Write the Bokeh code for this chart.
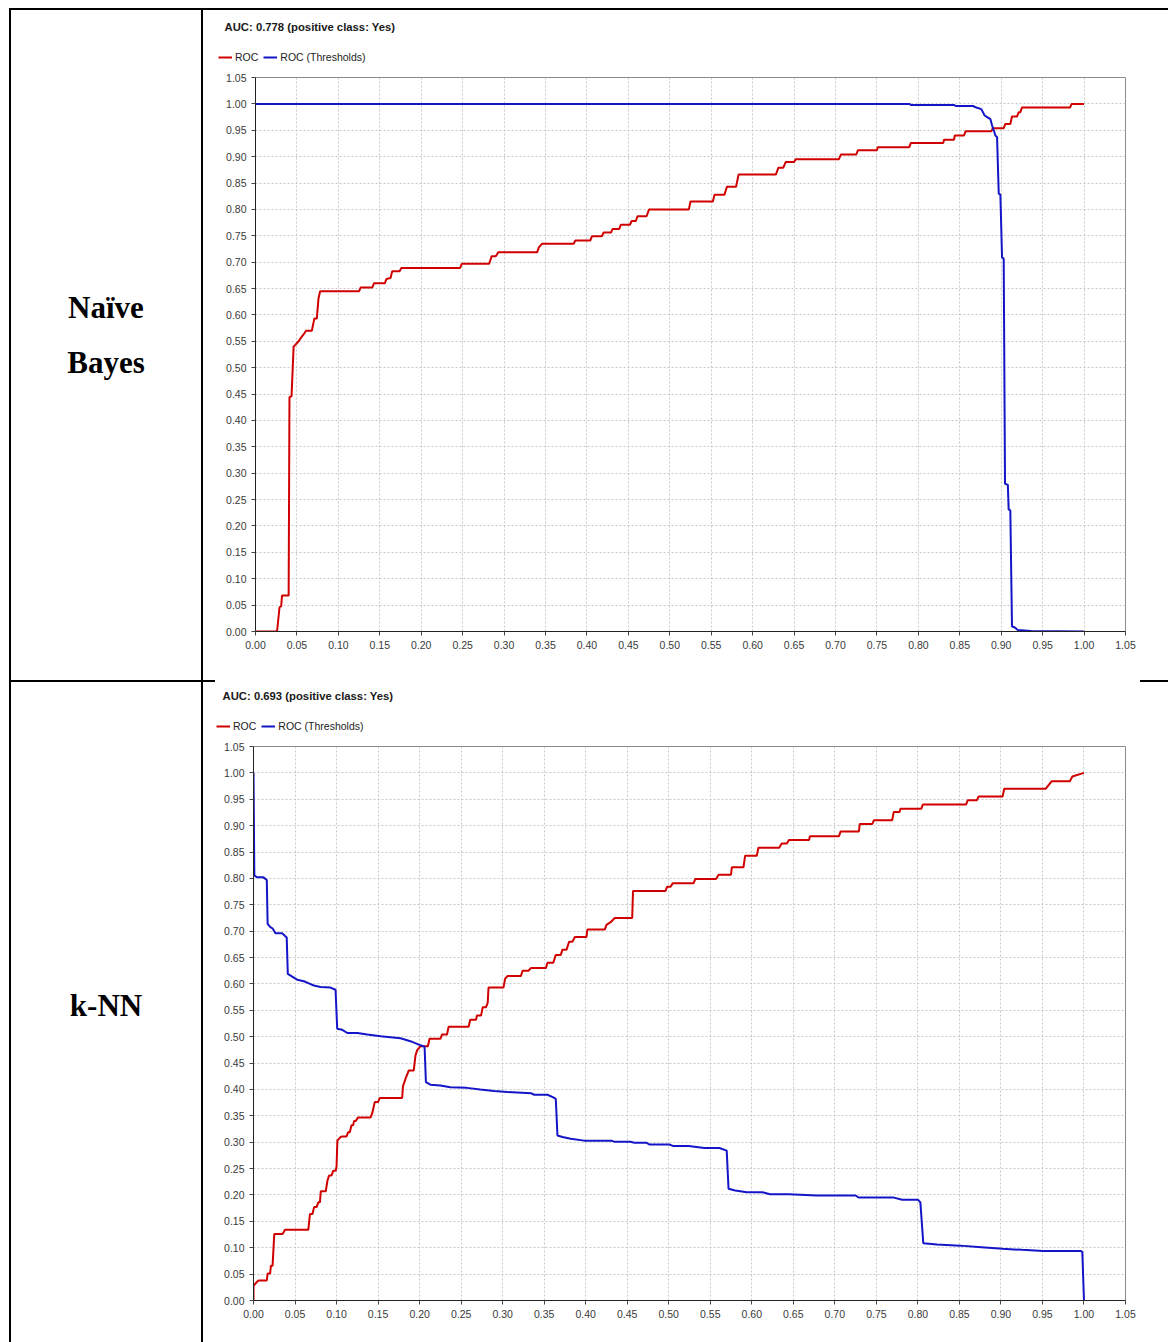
from bokeh.plotting import figure
from bokeh.layouts import column, row
from bokeh.models import (Div, Spacer, Range1d, FixedTicker, NumeralTickFormatter,
                          Label, Legend, LegendItem)
from bokeh.embed import file_html
from bokeh.resources import INLINE

# ---------------- data ----------------
axis_ticks = [0.00, 0.05, 0.10, 0.15, 0.20, 0.25, 0.30, 0.35, 0.40, 0.45, 0.50,
              0.55, 0.60, 0.65, 0.70, 0.75, 0.80, 0.85, 0.90, 0.95, 1.00, 1.05]

row_labels = [["Naïve", "Bayes"], ["k-NN"]]
titles = ["AUC: 0.778 (positive class: Yes)", "AUC: 0.693 (positive class: Yes)"]
series_names = ["ROC", "ROC (Thresholds)"]

nb_roc_fpr = [0.000, 0.026, 0.029, 0.031, 0.032, 0.040, 0.041, 0.0435, 0.046, 0.049, 0.052, 0.055,
              0.058, 0.061, 0.068, 0.071, 0.074, 0.076, 0.078, 0.125, 0.127, 0.141, 0.143, 0.156,
              0.158, 0.163, 0.165, 0.174, 0.176, 0.247, 0.249, 0.282, 0.285, 0.290, 0.293, 0.340,
              0.342, 0.346, 0.384, 0.386, 0.404, 0.406, 0.418, 0.420, 0.429, 0.431, 0.439, 0.441,
              0.452, 0.454, 0.459, 0.461, 0.472, 0.475, 0.523, 0.525, 0.552, 0.554, 0.566, 0.569,
              0.580, 0.583, 0.628, 0.631, 0.637, 0.640, 0.650, 0.652, 0.704, 0.7065, 0.725, 0.727,
              0.750, 0.751, 0.789, 0.791, 0.830, 0.831, 0.843, 0.844, 0.855, 0.857, 0.888, 0.890,
              0.903, 0.905, 0.911, 0.913, 0.919, 0.921, 0.923, 0.925, 0.983, 0.985, 1.000]
nb_roc_tpr = [0.000, 0.000, 0.046, 0.048, 0.068, 0.068, 0.444, 0.446, 0.540, 0.545, 0.550, 0.557,
              0.563, 0.570, 0.570, 0.593, 0.593, 0.631, 0.645, 0.645, 0.652, 0.652, 0.660, 0.660,
              0.668, 0.670, 0.683, 0.683, 0.689, 0.689, 0.697, 0.697, 0.711, 0.711, 0.719, 0.719,
              0.728, 0.735, 0.735, 0.741, 0.741, 0.749, 0.749, 0.756, 0.756, 0.763, 0.763, 0.771,
              0.771, 0.778, 0.778, 0.787, 0.787, 0.800, 0.800, 0.815, 0.815, 0.828, 0.828, 0.843,
              0.843, 0.866, 0.866, 0.879, 0.879, 0.890, 0.890, 0.895, 0.895, 0.904, 0.904, 0.912,
              0.912, 0.918, 0.918, 0.926, 0.926, 0.932, 0.932, 0.940, 0.940, 0.948, 0.948, 0.954,
              0.954, 0.962, 0.962, 0.976, 0.976, 0.984, 0.984, 0.993, 0.993, 1.000, 1.000]

nb_thr_fpr = [0.000, 0.789, 0.791, 0.843, 0.845, 0.866, 0.870, 0.876, 0.880, 0.884, 0.887, 0.889,
              0.891, 0.893, 0.895, 0.897, 0.899, 0.901, 0.903, 0.9046, 0.908, 0.909, 0.911, 0.913,
              0.916, 0.920, 0.936, 1.000]
nb_thr_val = [1.000, 1.000, 0.998, 0.998, 0.996, 0.996, 0.993, 0.990, 0.978, 0.974, 0.971, 0.959,
              0.950, 0.940, 0.937, 0.830, 0.828, 0.709, 0.707, 0.280, 0.278, 0.231, 0.230, 0.0095,
              0.008, 0.003, 0.001, 0.000]

knn_roc_fpr = [0.000, 0.000, 0.004, 0.006, 0.016, 0.017, 0.020, 0.021, 0.023, 0.025, 0.035, 0.038,
               0.066, 0.068, 0.071, 0.073, 0.076, 0.078, 0.080, 0.081, 0.087, 0.089, 0.091, 0.094,
               0.096, 0.099, 0.100, 0.101, 0.105, 0.107, 0.112, 0.114, 0.116, 0.118, 0.120, 0.121,
               0.123, 0.126, 0.141, 0.143, 0.146, 0.150, 0.152, 0.179, 0.180, 0.183, 0.187, 0.193,
               0.195, 0.197, 0.201, 0.210, 0.212, 0.225, 0.227, 0.233, 0.235, 0.259, 0.261, 0.268,
               0.269, 0.274, 0.276, 0.280, 0.282, 0.283, 0.301, 0.303, 0.306, 0.322, 0.324, 0.331,
               0.334, 0.352, 0.354, 0.361, 0.364, 0.370, 0.372, 0.377, 0.380, 0.384, 0.387, 0.401,
               0.402, 0.423, 0.425, 0.430, 0.435, 0.456, 0.457, 0.496, 0.498, 0.502, 0.505, 0.530,
               0.532, 0.557, 0.560, 0.575, 0.576, 0.590, 0.592, 0.606, 0.608, 0.633, 0.636, 0.642,
               0.645, 0.669, 0.670, 0.705, 0.707, 0.729, 0.730, 0.745, 0.747, 0.769, 0.771, 0.778,
               0.779, 0.804, 0.806, 0.858, 0.860, 0.871, 0.873, 0.902, 0.904, 0.954, 0.961, 0.983,
               0.986, 1.000]
knn_roc_tpr = [0.000, 0.028, 0.035, 0.038, 0.038, 0.051, 0.051, 0.066, 0.066, 0.126, 0.126, 0.134,
               0.134, 0.164, 0.164, 0.177, 0.177, 0.186, 0.186, 0.207, 0.207, 0.227, 0.237, 0.237,
               0.246, 0.246, 0.254, 0.303, 0.310, 0.311, 0.311, 0.319, 0.319, 0.332, 0.332, 0.340,
               0.340, 0.347, 0.347, 0.355, 0.376, 0.376, 0.384, 0.384, 0.406, 0.420, 0.436, 0.436,
               0.464, 0.474, 0.482, 0.482, 0.496, 0.496, 0.504, 0.504, 0.519, 0.519, 0.532, 0.532,
               0.540, 0.540, 0.556, 0.556, 0.564, 0.593, 0.593, 0.610, 0.615, 0.615, 0.625, 0.625,
               0.630, 0.630, 0.640, 0.640, 0.655, 0.655, 0.665, 0.665, 0.680, 0.680, 0.689, 0.689,
               0.703, 0.703, 0.712, 0.717, 0.725, 0.725, 0.776, 0.776, 0.784, 0.784, 0.791, 0.791,
               0.799, 0.799, 0.807, 0.807, 0.821, 0.821, 0.843, 0.843, 0.858, 0.858, 0.866, 0.866,
               0.873, 0.873, 0.880, 0.880, 0.889, 0.889, 0.903, 0.903, 0.910, 0.910, 0.926, 0.926,
               0.932, 0.932, 0.940, 0.940, 0.948, 0.948, 0.955, 0.955, 0.970, 0.970, 0.984, 0.984,
               0.993, 1.000]

knn_thr_fpr = [0.000, 0.001, 0.004, 0.012, 0.016, 0.017, 0.020, 0.023, 0.0265, 0.0345, 0.040,
               0.0413, 0.0466, 0.0526, 0.0607, 0.0667, 0.0727, 0.0807, 0.0928, 0.0988, 0.1008,
               0.1069, 0.113, 0.125, 0.137, 0.153, 0.177, 0.189, 0.199, 0.206, 0.2076, 0.213,
               0.225, 0.237, 0.257, 0.273, 0.2895, 0.3057, 0.334, 0.338, 0.354, 0.361, 0.364,
               0.366, 0.372, 0.382, 0.398, 0.431, 0.435, 0.454, 0.4586, 0.473, 0.477, 0.5006,
               0.505, 0.524, 0.5427, 0.561, 0.5698, 0.572, 0.580, 0.594, 0.613, 0.622, 0.645,
               0.678, 0.725, 0.729, 0.771, 0.781, 0.800, 0.803, 0.8065, 0.823, 0.851, 0.8765,
               0.902, 0.9255, 0.951, 0.9957, 0.998, 1.000]
knn_thr_val = [1.000, 0.806, 0.802, 0.802, 0.797, 0.714, 0.708, 0.705, 0.696, 0.696, 0.688,
               0.619, 0.614, 0.608, 0.605, 0.601, 0.597, 0.594, 0.593, 0.589, 0.515,
               0.513, 0.507, 0.507, 0.504, 0.501, 0.497, 0.4915, 0.485, 0.481, 0.414, 0.409,
               0.4075, 0.404, 0.403, 0.400, 0.397, 0.395, 0.393, 0.390, 0.390, 0.385, 0.382,
               0.3127, 0.310, 0.3065, 0.303, 0.303, 0.3007, 0.3007, 0.299, 0.299, 0.2956, 0.2956,
               0.293, 0.293, 0.289, 0.289, 0.284, 0.2117, 0.2085, 0.2053, 0.2053, 0.2015, 0.2015,
               0.199, 0.199, 0.195, 0.195, 0.191, 0.191, 0.186, 0.1086, 0.106, 0.104, 0.101,
               0.098, 0.096, 0.094, 0.094, 0.092, 0.000]

# ---------------- styling ----------------
RED = "#d00000"
BLUE = "#1414c8"
SANS = "Liberation Sans"
SERIF = "Liberation Serif"
W = 965
NAN = float("nan")


def header(title, height, title_x, title_y, legend_x):
    """Title + legend strip drawn above the chart frame (legend proxies hold no visible data)."""
    h = figure(width=W, height=height, output_backend="svg", toolbar_location=None,
               x_axis_type=None, y_axis_type=None, x_range=Range1d(0, 1), y_range=Range1d(0, 1),
               min_border=0, min_border_left=0, min_border_right=0,
               min_border_top=0, min_border_bottom=0)
    h.frame_align = False
    h.outline_line_color = None
    h.grid.visible = False
    h.background_fill_color = "white"
    h.border_fill_color = "white"
    d1 = h.line(x=[NAN], y=[NAN], line_color=RED, line_width=2)
    d2 = h.line(x=[NAN], y=[NAN], line_color=BLUE, line_width=2)
    h.add_layout(Legend(items=[LegendItem(label=series_names[0], renderers=[d1]),
                               LegendItem(label=series_names[1], renderers=[d2])],
                        orientation="horizontal", location=(legend_x, 6),
                        label_text_font=SANS, label_text_font_size="10.5px",
                        label_text_color="#222222",
                        glyph_width=14, glyph_height=12, label_height=12, label_standoff=3,
                        spacing=5, padding=0, margin=0,
                        border_line_alpha=0, background_fill_alpha=0))
    h.add_layout(Label(x=title_x, y=title_y, x_units="screen", y_units="screen", text=title,
                       text_font=SANS, text_font_style="bold", text_font_size="11.3px",
                       text_color="#1a1a1a", text_baseline="middle"))
    return h


def roc_chart(roc_x, roc_y, thr_x, thr_y, height, bl, br, bt, bb):
    p = figure(width=W, height=height, output_backend="svg", toolbar_location=None,
               x_range=Range1d(0, 1.05), y_range=Range1d(0, 1.05),
               min_border_left=bl, min_border_right=br, min_border_top=bt, min_border_bottom=bb)
    p.background_fill_color = "white"
    p.border_fill_color = "white"
    p.outline_line_color = "#8a8a8a"
    p.outline_line_width = 1
    for ax in (p.xaxis[0], p.yaxis[0]):
        ax.ticker = FixedTicker(ticks=axis_ticks)
        ax.formatter = NumeralTickFormatter(format="0.00")
        ax.major_label_text_font = SANS
        ax.major_label_text_font_size = "10.5px"
        ax.major_label_text_color = "#3a3a3a"
        ax.axis_line_color = "#222222"
        ax.major_tick_line_color = "#444444"
        ax.major_tick_out = 4
        ax.major_tick_in = 0
        ax.minor_tick_line_color = None
        ax.major_label_standoff = 5
    p.grid.grid_line_color = "#c8c8c8"
    p.grid.grid_line_dash = "2 2"
    p.grid.grid_line_width = 1
    p.xgrid.ticker = FixedTicker(ticks=axis_ticks)
    p.ygrid.ticker = FixedTicker(ticks=axis_ticks)

    p.line(roc_x, roc_y, line_color=RED, line_width=2)
    p.line(thr_x, thr_y, line_color=BLUE, line_width=2)
    return p


def black(w, h, margin=0):
    return Div(text="", width=w, height=h, margin=margin,
               styles={"background-color": "black"})


def label_cell(lines, h, pad_top):
    inner = "".join(f"<div>{t}</div>" for t in lines)
    html = (f"<div style=\"width:190px;height:{h}px;box-sizing:border-box;padding-top:{pad_top}px;"
            f"text-align:center;font-family:'{SERIF}';font-weight:bold;font-size:31px;"
            f"line-height:55px;color:black;\">{inner}</div>")
    return Div(text=html, width=190, height=h, margin=0)


# chart 1: page y 10..680, frame 77..631 ; chart 2: page y 682..1342, frame 746..1300
head1 = header(titles[0], 59, 21, 43, 15)
fig1 = roc_chart(nb_roc_fpr, nb_roc_tpr, nb_thr_fpr, nb_thr_val, 611, 52, 43, 8, 49)
head2 = header(titles[1], 56, 19, 43, 13)
fig2 = roc_chart(knn_roc_fpr, knn_roc_tpr, knn_thr_fpr, knn_thr_val, 604, 50, 43, 8, 42)

top_line = black(1159, 2, margin=(8, 0, 0, 9))
row1 = row(black(2, 670, margin=(0, 0, 0, 9)), label_cell(row_labels[0], 670, 270),
           black(2, 670), column(head1, fig1, spacing=0), spacing=0)
mid_line = row(black(206, 2, margin=(0, 0, 0, 9)), Spacer(width=925, height=2, margin=0),
               black(28, 2), spacing=0)
row2 = row(black(2, 660, margin=(0, 0, 0, 9)), label_cell(row_labels[1], 660, 296),
           black(2, 660), column(head2, fig2, spacing=0), spacing=0)

page = column(top_line, row1, mid_line, row2, spacing=0)

open("out.html", "w").write(file_html(page, INLINE))
